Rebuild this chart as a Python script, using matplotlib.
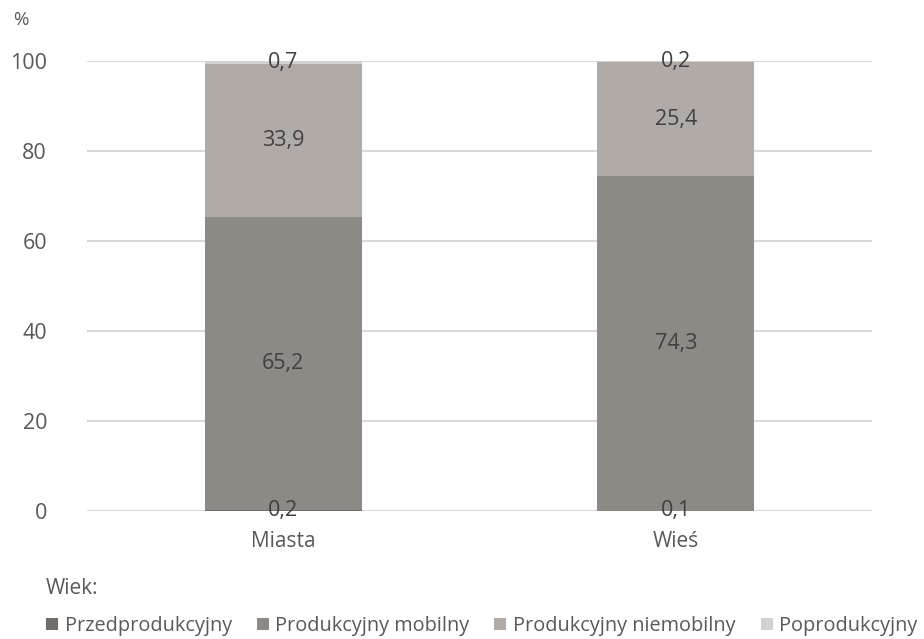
import matplotlib
matplotlib.use("Agg")
import matplotlib.pyplot as plt
from matplotlib.patches import Patch
import numpy as np

categories = ["Miasta", "Wieś"]
series_names = ["Przedprodukcyjny", "Produkcyjny mobilny", "Produkcyjny niemobilny", "Poprodukcyjny"]
przedprodukcyjny = [0.2, 0.1]
produkcyjny_mobilny = [65.2, 74.3]
produkcyjny_niemobilny = [33.9, 25.4]
poprodukcyjny = [0.7, 0.2]
yticks = [0, 20, 40, 60, 80, 100]

series = [przedprodukcyjny, produkcyjny_mobilny, produkcyjny_niemobilny, poprodukcyjny]
colors = ["#6f6c69", "#8d8984", "#b0aba7", "#d4d1ce"]

plt.rcParams['font.family'] = ['Open Sans', 'DejaVu Sans']

fig = plt.figure(figsize=(9.24, 6.39), dpi=100)
ax = fig.add_axes([87/924, 1-511/639, 785/924, 450/639])

x = np.arange(len(categories))
bottom = np.zeros(len(categories))
for vals, col in zip(series, colors):
    vals = np.array(vals)
    ax.bar(x, vals, width=0.4, bottom=bottom, color=col, zorder=3)
    for xi, b, v in zip(x, bottom, vals):
        ax.text(xi, b + v/2, f"{v:.1f}".replace(".", ","), ha="center", va="center",
                fontsize=15.5, color="#404040", zorder=5)
    bottom += vals

ax.set_xlim(-0.5, 1.5)
ax.set_ylim(0, 100)
ax.set_yticks(yticks)
ax.set_yticklabels([str(t) for t in yticks])
ax.set_xticks(x)
ax.set_xticklabels(categories)
ax.tick_params(axis="y", length=0, pad=28.8, labelsize=15.5, labelcolor="#595959")
ax.tick_params(axis="x", length=0, pad=14.5, labelsize=15, labelcolor="#595959")
ax.yaxis.grid(True, color="#d9d9d9", linewidth=1.5, zorder=0)
ax.set_axisbelow(True)
for s in ax.spines.values():
    s.set_visible(False)

fig.text(13/924, 1-20/639, "%", fontsize=13.5, color="#595959", va="center", ha="left")
fig.text(46/924, 1-589/639, "Wiek:", fontsize=15, color="#595959", va="center", ha="left")

handles = [Patch(facecolor=c, edgecolor="none") for c in colors]
leg = fig.legend(handles, series_names, loc="center left", bbox_to_anchor=(46/924, 1-626/639),
                 ncol=4, frameon=False, fontsize=14.3, handlelength=0.6, handleheight=0.6,
                 handletextpad=0.34, columnspacing=1.25, borderaxespad=0, borderpad=0)
for t in leg.get_texts():
    t.set_color("#595959")

fig.savefig("out.png", dpi=100)
